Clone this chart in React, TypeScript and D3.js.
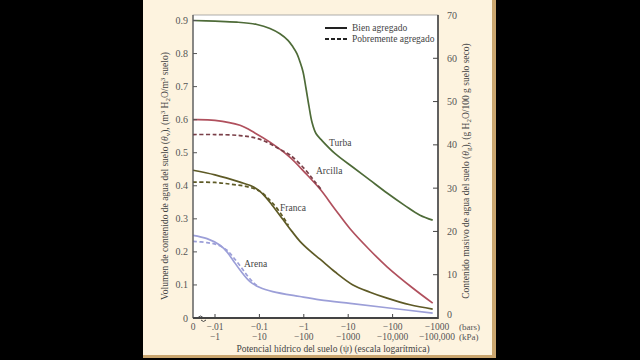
import React from "react";
import * as d3 from "d3";

// x tick values (bars magnitude) and labels
const xTickValues = [0, 0.01, 0.1, 1, 10, 100, 1000];
const xTickBars = ["0", "−.01", "−0.1", "−1", "−10", "−100", "−1000"];
const xTickKPa = ["", "−1", "−10", "−100", "−1000", "−10,000", "−100,000"];
const leftTicks = [0, 0.1, 0.2, 0.3, 0.4, 0.5, 0.6, 0.7, 0.8, 0.9];
const leftTickLabels = ["0", "0.1", "0.2", "0.3", "0.4", "0.5", "0.6", "0.7", "0.8", "0.9"];
const rightTicks = [0, 10, 20, 30, 40, 50, 60, 70];

// Turba (peat) – well aggregated
const turbaPsi = [0, 0.01, 0.031, 0.088, 0.173, 0.29, 0.44, 0.57, 0.7, 0.82, 0.96, 1.12, 1.31, 1.53, 1.88, 2.6, 5, 12.8, 31, 75, 190, 414, 800];
const turbaTheta = [0.9, 0.898, 0.895, 0.888, 0.876, 0.86, 0.84, 0.82, 0.8, 0.775, 0.745, 0.695, 0.64, 0.592, 0.558, 0.536, 0.498, 0.456, 0.417, 0.378, 0.34, 0.311, 0.296];

// Arcilla (clay)
const arcillaPsi = [0, 0.01, 0.0366, 0.079, 0.173, 0.49, 1.06, 2.32, 5, 11, 31, 75, 288, 800];
const arcillaTheta = [0.6, 0.598, 0.583, 0.56, 0.532, 0.486, 0.44, 0.39, 0.33, 0.27, 0.205, 0.155, 0.09, 0.045];
const arcillaDashPsi = [0, 0.01, 0.0366, 0.079, 0.148, 0.29, 0.49, 1.06, 1.78, 2.6];
const arcillaDashTheta = [0.555, 0.555, 0.552, 0.545, 0.532, 0.51, 0.493, 0.45, 0.412, 0.385];

// Franca (loam)
const francaPsi = [0, 0.01, 0.0366, 0.07, 0.103, 0.14, 0.192, 0.34, 0.54, 0.82, 1.38, 2.32, 5, 12.8, 31, 75, 247, 800];
const francaTheta = [0.447, 0.433, 0.411, 0.398, 0.383, 0.365, 0.342, 0.298, 0.262, 0.232, 0.203, 0.178, 0.14, 0.1, 0.078, 0.06, 0.04, 0.027];
const francaDashPsi = [0, 0.01, 0.022, 0.05, 0.1, 0.2, 0.34, 0.45];
const francaDashTheta = [0.411, 0.41, 0.405, 0.398, 0.384, 0.347, 0.306, 0.28];

// Arena (sand)
const arenaPsi = [0, 0.0066, 0.013, 0.0186, 0.0254, 0.0366, 0.0614, 0.103, 0.2, 0.82, 2.32, 11, 75, 800];
const arenaTheta = [0.25, 0.24, 0.22, 0.2, 0.175, 0.145, 0.11, 0.092, 0.08, 0.065, 0.055, 0.044, 0.031, 0.015];
const arenaDashPsi = [0, 0.0066, 0.011, 0.0186, 0.0254, 0.0366, 0.052, 0.072, 0.09];
const arenaDashTheta = [0.232, 0.228, 0.222, 0.205, 0.185, 0.158, 0.13, 0.108, 0.097];

const C_TURBA = "#4e6b38";
const C_ARCILLA = "#b0505d";
const C_ARCILLA_D = "#7a3f48";
const C_FRANCA = "#5e5a26";
const C_ARENA = "#9c9fd8";

const PL = 193, PR = 438, PT = 15, PB = 318;

const xLog = d3.scaleLog().domain([0.01, 1000]).range([215, 437]);
const xPos = (p: number) => (p === 0 ? PL : xLog(p));
const yLeft = d3.scaleLinear().domain([0, 0.9]).range([PB, 20.5]);
const yRight = d3.scaleLinear().domain([0, 70]).range([PB, PT]);

const line = d3
  .line<[number, number]>()
  .x((d) => xPos(d[0]))
  .y((d) => yLeft(d[1]))
  .curve(d3.curveCatmullRom.alpha(0.5));

const zip = (a: number[], b: number[]) => a.map((v, i) => [v, b[i]] as [number, number]);

const FONT = "'Liberation Serif', 'DejaVu Serif', serif";

export default function App() {
  const series = [
    { d: zip(turbaPsi, turbaTheta), c: C_TURBA, dash: false },
    { d: zip(arcillaPsi, arcillaTheta), c: C_ARCILLA, dash: false },
    { d: zip(arcillaDashPsi, arcillaDashTheta), c: C_ARCILLA_D, dash: true },
    { d: zip(francaPsi, francaTheta), c: C_FRANCA, dash: false },
    { d: zip(francaDashPsi, francaDashTheta), c: C_FRANCA, dash: true },
    { d: zip(arenaPsi, arenaTheta), c: C_ARENA, dash: false },
    { d: zip(arenaDashPsi, arenaDashTheta), c: C_ARENA, dash: true },
  ];
  return (
    <svg
      width={640}
      height={360}
      style={{ position: "absolute", left: 0, top: 0 }}
      fontFamily={FONT}
    >
      <rect x={0} y={0} width={640} height={360} fill="#000" />
      <rect x={143} y={0} width={353} height={358} fill="#c9a56e" />
      <rect x={143} y={0} width={349} height={355} fill="#fdf3df" />
      <rect x={PL} y={PT} width={PR - PL} height={PB - PT} fill="#fff" stroke="#9a9a9a" strokeWidth={0.8} />

      {/* curves */}
      {series.map((s, i) => (
        <path
          key={i}
          d={line(s.d) || ""}
          fill="none"
          stroke={s.c}
          strokeWidth={1.7}
          strokeDasharray={s.dash ? "4,2.5" : undefined}
        />
      ))}

      {/* axes lines */}
      <line x1={PL} y1={PT} x2={PL} y2={PB} stroke="#555" strokeWidth={1.2} />
      <line x1={PR} y1={PT} x2={PR} y2={PB + 1} stroke="#444" strokeWidth={1.6} />
      <line x1={PL} y1={PB} x2={PR} y2={PB} stroke="#444" strokeWidth={2} />
      <path d="M198,317.5 q2.5,-3 5,0 M201,320 q2.5,3 5,0" fill="none" stroke="#444" strokeWidth={1} />

      {/* left ticks */}
      {leftTicks.map((t, i) => (
        <g key={"l" + i}>
          {t > 0 && <line x1={PL} x2={PL + 4} y1={yLeft(t)} y2={yLeft(t)} stroke="#555" strokeWidth={1} />}
          <text x={188} y={yLeft(t) + 3.5} fontSize={10} textAnchor="end" fill="#555">
            {leftTickLabels[i]}
          </text>
        </g>
      ))}

      {/* right ticks */}
      {rightTicks.map((t, i) => (
        <g key={"r" + i}>
          {t > 0 && t < 70 && <line x1={PR - 5} x2={PR} y1={yRight(t)} y2={yRight(t)} stroke="#444" strokeWidth={1} />}
          <text x={447} y={yRight(t) + (t === 0 ? 0 : 3.5)} fontSize={10} textAnchor="start" fill="#555">
            {t}
          </text>
        </g>
      ))}

      {/* bottom ticks */}
      {xTickValues.map((v, i) => (
        <g key={"b" + i}>
          {v > 0 && v < 1000 && <line x1={xPos(v)} x2={xPos(v)} y1={PB - 4} y2={PB} stroke="#444" strokeWidth={1} />}
          <text x={xPos(v)} y={PB + 12} fontSize={9.5} textAnchor="middle" fill="#555">
            {xTickBars[i]}
          </text>
          <text x={xPos(v)} y={PB + 22} fontSize={9.5} textAnchor="middle" fill="#555">
            {xTickKPa[i]}
          </text>
        </g>
      ))}
      <text x={459} y={PB + 12} fontSize={9} fill="#555">(bars)</text>
      <text x={459} y={PB + 22} fontSize={9} fill="#555">(kPa)</text>

      {/* x title */}
      <text x={333} y={352} fontSize={9.5} textAnchor="middle" fill="#444">
        Potencial hídrico del suelo (ψ) (escala logarítmica)
      </text>

      {/* left title */}
      <text transform="translate(168,176) rotate(-90)" fontSize={9.5} textAnchor="middle" fill="#444">
        Volumen de contenido de agua del suelo (<tspan fontStyle="italic">θ</tspan>
        <tspan fontSize={7} dy={2}>v</tspan>
        <tspan dy={-2}>), (m</tspan>
        <tspan fontSize={7} dy={-3}>3</tspan>
        <tspan dy={3}> H</tspan>
        <tspan fontSize={7} dy={2}>2</tspan>
        <tspan dy={-2}>O/m</tspan>
        <tspan fontSize={7} dy={-3}>3</tspan>
        <tspan dy={3}> suelo)</tspan>
      </text>

      {/* right title */}
      <text transform="translate(469,171) rotate(-90)" fontSize={9.5} textAnchor="middle" fill="#444">
        Contenido masivo de agua del suelo (<tspan fontStyle="italic">θ</tspan>
        <tspan fontSize={7} dy={2}>g</tspan>
        <tspan dy={-2}>), (g H</tspan>
        <tspan fontSize={7} dy={2}>2</tspan>
        <tspan dy={-2}>O/100 g suelo seco)</tspan>
      </text>

      {/* legend */}
      <line x1={325} x2={347} y1={28} y2={28} stroke="#222" strokeWidth={2} />
      <text x={352} y={31} fontSize={9.5} fill="#444">Bien agregado</text>
      <line x1={325} x2={347} y1={39} y2={39} stroke="#222" strokeWidth={2} strokeDasharray="4,2" />
      <text x={352} y={42} fontSize={9.5} fill="#444">Pobremente agregado</text>

      {/* curve labels */}
      <text x={329} y={146} fontSize={9.5} fill="#444">Turba</text>
      <text x={316} y={174} fontSize={9.5} fill="#444">Arcilla</text>
      <text x={280} y={211} fontSize={9.5} fill="#444">Franca</text>
      <text x={244} y={267} fontSize={9.5} fill="#444">Arena</text>
    </svg>
  );
}
